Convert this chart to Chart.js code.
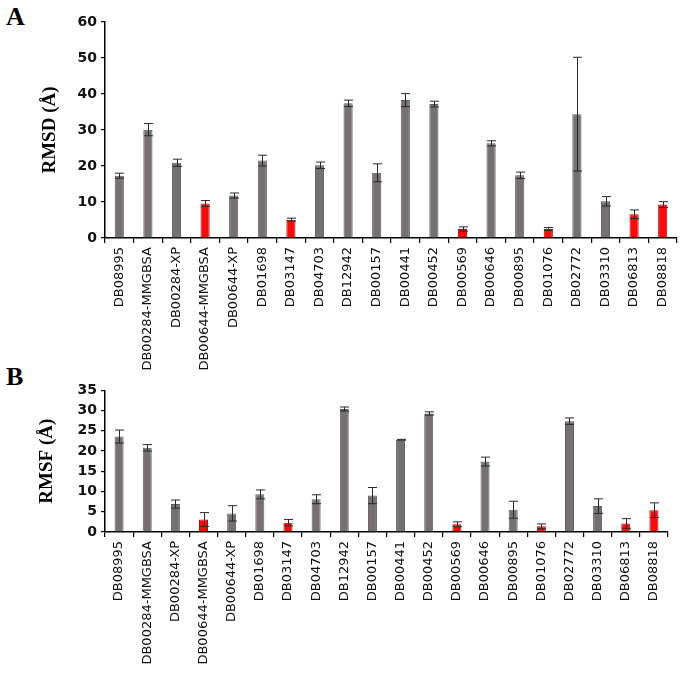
<!DOCTYPE html>
<html>
<head>
<meta charset="utf-8">
<script src="https://cdn.jsdelivr.net/npm/chart.js@4/dist/chart.umd.min.js"></script>
<style>
  body { margin: 0; background: #fff; width: 688px; height: 674px; position: relative; overflow: hidden; }
  .panel { position: absolute; left: 0; width: 688px; }
  .letter { position: absolute; left: 6px; font: bold 26px "Liberation Serif", serif; color: #000; }
</style>
</head>
<body>
<div class="letter" style="top:2px">A</div>
<div class="letter" style="top:362px">B</div>
<div class="panel" style="top:0;height:378px"><canvas id="rmsdChart"></canvas></div>
<div class="panel" style="top:378px;height:296px"><canvas id="rmsfChart"></canvas></div>
<script>
// Compounds on the x axis (same for both panels)
const compounds = ['DB08995', 'DB00284-MMGBSA', 'DB00284-XP', 'DB00644-MMGBSA', 'DB00644-XP',
    'DB01698', 'DB03147', 'DB04703', 'DB12942', 'DB00157', 'DB00441', 'DB00452', 'DB00569',
    'DB00646', 'DB00895', 'DB01076', 'DB02772', 'DB03310', 'DB06813', 'DB08818'];

// Highlighted (red) compounds
const highlighted = ['DB00644-MMGBSA', 'DB03147', 'DB00569', 'DB01076', 'DB06813', 'DB08818'];

// Panel A: RMSD values and errors
const rmsdValues = [17.3, 30.1, 20.9, 9.6, 11.8, 21.5, 5.1, 20.2, 37.4, 18.1, 38.3, 37.2, 2.5, 26.3, 17.4, 2.5, 34.4, 10.2, 6.6, 9.3];
const rmsdErrors = [0.7, 1.7, 1.0, 0.8, 0.7, 1.5, 0.4, 0.9, 0.9, 2.5, 1.8, 0.8, 0.6, 0.7, 0.9, 0.4, 15.8, 1.3, 1.2, 0.8];

// Panel B: RMSF values and errors
const rmsfValues = [23.6, 20.8, 6.9, 3.1, 4.6, 9.3, 2.3, 8.1, 30.4, 9.0, 22.8, 29.3, 1.9, 17.4, 5.5, 1.4, 27.4, 6.4, 2.1, 5.4];
const rmsfErrors = [1.6, 0.8, 1.0, 1.7, 1.9, 1.1, 0.8, 1.1, 0.5, 2.0, 0.1, 0.4, 0.6, 1.1, 2.1, 0.6, 0.8, 1.8, 1.2, 1.8];

const GRAY = '#767171';
const RED = '#f50d0d';
const barColors = compounds.map(c => highlighted.includes(c) ? RED : GRAY);
const barBorders = compounds.map(c => highlighted.includes(c) ? '#c40000' : '#5f5b5b');

// Draws symmetric error bars on top of the bars
const errorBars = {
    id: 'errorBars',
    afterDatasetsDraw(chart) {
        const ctx = chart.ctx;
        const yScale = chart.scales.y;
        const ds = chart.data.datasets[0];
        const meta = chart.getDatasetMeta(0);
        ctx.save();
        ctx.strokeStyle = '#2a2a2a';
        ctx.lineWidth = 1;
        meta.data.forEach((bar, i) => {
            const v = ds.data[i], e = ds.errors[i];
            const x = Math.round(bar.x) + 0.5;
            const top = yScale.getPixelForValue(v + e);
            const bot = yScale.getPixelForValue(v - e);
            ctx.beginPath();
            ctx.moveTo(x, top); ctx.lineTo(x, bot);
            ctx.moveTo(x - 4.5, top); ctx.lineTo(x + 4.5, top);
            ctx.moveTo(x - 4.5, bot); ctx.lineTo(x + 4.5, bot);
            ctx.stroke();
        });
        ctx.restore();
    }
};

function makeChart(canvasId, values, errors, yMax, yStep, yTitle, padding, titlePad) {
    const ctx = document.getElementById(canvasId).getContext('2d');
    return new Chart(ctx, {
        type: 'bar',
        data: {
            labels: compounds,
            datasets: [{
                data: values,
                errors: errors,
                backgroundColor: barColors,
                borderColor: barBorders,
                borderWidth: 1,
                barPercentage: 0.32,
                categoryPercentage: 1
            }]
        },
        options: {
            responsive: true,
            maintainAspectRatio: false,
            animation: false,
            layout: { padding: padding },
            plugins: { legend: { display: false }, tooltip: { enabled: false } },
            scales: {
                x: {
                    grid: { display: true, drawOnChartArea: false, drawTicks: true, tickLength: 5, color: '#000', lineWidth: 1.2 },
                    border: { color: '#000', width: 1.5 },
                    ticks: {
                        minRotation: 90, maxRotation: 90, autoSkip: false, padding: 4,
                        color: '#111',
                        font: { family: 'DejaVu Sans', size: 13 }
                    },
                    afterFit: scale => { scale.height = padding.xHeight; }
                },
                y: {
                    min: 0, max: yMax,
                    grid: { display: true, drawOnChartArea: false, drawTicks: true, tickLength: 4, color: '#000', lineWidth: 1.2 },
                    border: { color: '#000', width: 1.5 },
                    ticks: {
                        stepSize: yStep, padding: 4, color: '#111',
                        font: { family: 'DejaVu Sans', size: 14, weight: 'bold' }
                    },
                    title: {
                        display: true, text: yTitle, color: '#000',
                        font: { family: 'Liberation Serif', size: 19, weight: 'bold' },
                        padding: { top: titlePad, bottom: 0 }
                    },
                    afterFit: scale => { scale.width = 105; }
                }
            }
        },
        plugins: [errorBars]
    });
}

makeChart('rmsdChart', rmsdValues, rmsdErrors, 60, 10, 'RMSD (Å)',
    { left: 0, top: 22, right: 11, bottom: 0, xHeight: 140 }, 39);
makeChart('rmsfChart', rmsfValues, rmsfErrors, 35, 5, 'RMSF (Å)',
    { left: 0, top: 12, right: 20, bottom: 0, xHeight: 142 }, 36);
</script>
</body>
</html>
